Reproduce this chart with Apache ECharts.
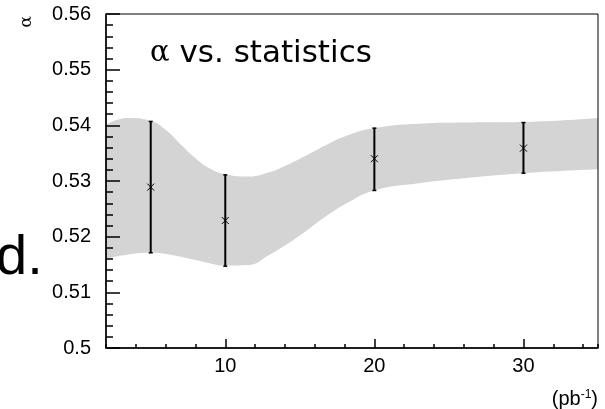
<!DOCTYPE html>
<html>
<head>
<meta charset="utf-8">
<script src="https://cdn.jsdelivr.net/npm/echarts@6/dist/echarts.min.js"></script>
<style>
  html, body { margin: 0; padding: 0; background: #fff; }
  #chart { width: 605px; height: 409px; }
</style>
</head>
<body>
<div id="chart"></div>
<script>
// measured points with error bars
var pointX = [5, 10, 20, 30];
var alphaVals = [0.5289, 0.5229, 0.5340, 0.5359];
var errLow = [0.5171, 0.5147, 0.5283, 0.5314];
var errHigh = [0.5407, 0.5311, 0.5395, 0.5405];

// grey uncertainty band
var bandX = [2, 3.5, 5, 6, 7, 8, 9, 10, 11.5, 13, 14, 15, 16, 17, 18, 20, 23, 26, 30, 35];
var bandUpper = [0.5401, 0.5413, 0.5408, 0.5392, 0.5366, 0.5341, 0.5322, 0.5312, 0.5308, 0.5316, 0.5327, 0.5340, 0.5354, 0.5368, 0.5380, 0.5395, 0.5403, 0.5405, 0.5406, 0.5413];
var bandLower = [0.5160, 0.5168, 0.5171, 0.5169, 0.5164, 0.5158, 0.5152, 0.5148, 0.5149, 0.5168, 0.5184, 0.5202, 0.5222, 0.5241, 0.5258, 0.5283, 0.5296, 0.5305, 0.5314, 0.5321];

var xMajorTicks = [10, 20, 30];

var FONT = 'Liberation Sans';

var upperData = bandX.map(function(x, i) { return [x, bandUpper[i]]; });
var lowerData = bandX.map(function(x, i) { return [x, bandLower[i]]; });
var errData = pointX.map(function(x, i) { return [x, alphaVals[i], errLow[i], errHigh[i]]; });

var chart = echarts.init(document.getElementById('chart'));

chart.setOption({
  animation: false,
  backgroundColor: '#fff',
  grid: {
    left: 106, right: 7, top: 14, bottom: 61, z: 6,
    show: true, borderColor: '#000', borderWidth: 1, backgroundColor: 'transparent'
  },
  xAxis: [
    {
      type: 'value', min: 2, max: 35, interval: 2, z: 5,
      axisLine: { lineStyle: { color: '#000', width: 1.5 } },
      axisTick: { inside: true, length: 4, lineStyle: { color: '#000', width: 1.5 } },
      axisLabel: { show: false },
      splitLine: { show: false }
    },
    {
      type: 'value', min: 2, max: 35, position: 'bottom', z: 5,
      axisLine: { show: false },
      axisTick: { inside: true, length: 9, customValues: xMajorTicks, lineStyle: { color: '#000', width: 1.5 } },
      axisLabel: { customValues: xMajorTicks, color: '#000', fontFamily: FONT, fontSize: 20, margin: 8 },
      splitLine: { show: false }
    }
  ],
  yAxis: {
    type: 'value', min: 0.5, max: 0.56, interval: 0.01, z: 5,
    axisLine: { show: true, lineStyle: { color: '#000', width: 1.5 } },
    axisTick: { inside: true, length: 14, lineStyle: { color: '#000', width: 1.5 } },
    minorTick: { show: true, splitNumber: 5, length: 7, lineStyle: { color: '#000', width: 1.5 } },
    axisLabel: { color: '#000', fontFamily: FONT, fontSize: 20, margin: 15 },
    splitLine: { show: false }
  },
  series: [
    {
      // upper edge, filled grey down to the axis
      type: 'line', data: upperData, smooth: true, symbol: 'none', z: 1, silent: true,
      lineStyle: { opacity: 0 }, areaStyle: { color: '#d4d4d4', opacity: 1, origin: 'start' }
    },
    {
      // lower edge, white fill masks below the band
      type: 'line', data: lowerData, smooth: true, symbol: 'none', z: 1, silent: true,
      lineStyle: { opacity: 0 }, areaStyle: { color: '#fff', opacity: 1, origin: 'start' }
    },
    {
      type: 'custom', data: errData, z: 3,
      encode: { x: 0, y: [1, 2, 3] },
      renderItem: function(params, api) {
        var x = api.value(0);
        var c = api.coord([x, api.value(1)]);
        var lo = api.coord([x, api.value(2)]);
        var hi = api.coord([x, api.value(3)]);
        var bar = { stroke: '#000', lineWidth: 2 };
        var cap = { stroke: '#000', lineWidth: 1.5 };
        var mk = { stroke: '#000', lineWidth: 1 };
        var s = 3.5;
        return {
          type: 'group',
          children: [
            { type: 'line', shape: { x1: c[0], y1: lo[1], x2: c[0], y2: hi[1] }, style: bar },
            { type: 'line', shape: { x1: c[0] - 2, y1: lo[1], x2: c[0] + 2, y2: lo[1] }, style: cap },
            { type: 'line', shape: { x1: c[0] - 2, y1: hi[1], x2: c[0] + 2, y2: hi[1] }, style: cap },
            { type: 'line', shape: { x1: c[0] - s, y1: c[1] - s, x2: c[0] + s, y2: c[1] + s }, style: mk },
            { type: 'line', shape: { x1: c[0] - s, y1: c[1] + s, x2: c[0] + s, y2: c[1] - s }, style: mk }
          ]
        };
      }
    }
  ],
  graphic: [
    {
      type: 'text', left: 150, top: 38, z: 10,
      style: {
        text: '{a|α} vs. statistics',
        fill: '#000',
        font: '31px "DejaVu Sans"',
        rich: {
          a: { fontFamily: 'DejaVu Serif', fontSize: 29, fill: '#000' }
        }
      }
    },
    {
      type: 'text', x: 27, y: 16, rotation: Math.PI / 2, z: 10,
      style: { text: 'α', fill: '#000', font: '17px "DejaVu Serif"', verticalAlign: 'middle', align: 'right' }
    },
    {
      type: 'text', x: -4, y: 259, z: 10,
      style: { text: 'd.', fill: '#000', font: '56px "Liberation Sans"', verticalAlign: 'middle', align: 'left' }
    },
    {
      type: 'text', right: 7, top: 389, z: 10,
      style: {
        text: '(pb{s|-1})',
        fill: '#000',
        font: '20px "Liberation Sans"',
        rich: {
          s: { fontSize: 12, fontFamily: FONT, fill: '#000', padding: [0, 0, 9, 0] }
        }
      }
    }
  ]
});
</script>
</body>
</html>
